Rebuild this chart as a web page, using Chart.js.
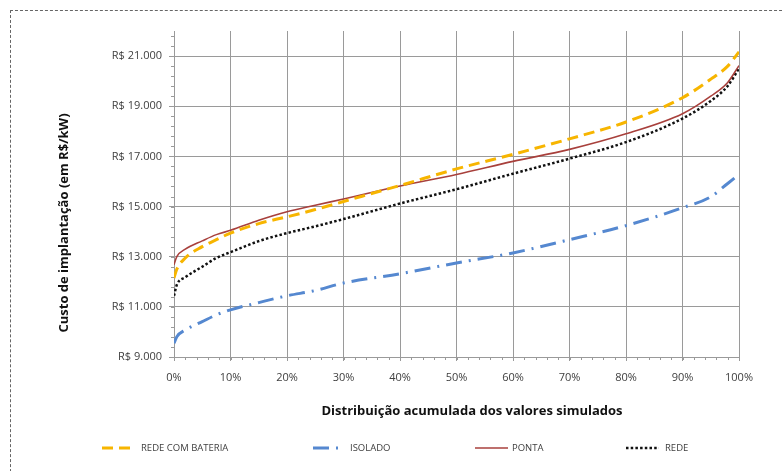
<!DOCTYPE html>
<html>
<head>
<meta charset="utf-8">
<script src="https://cdn.jsdelivr.net/npm/chart.js@4/dist/chart.umd.min.js"></script>
<style>
  body { margin: 0; background: #fff; font-family: "Open Sans", sans-serif; }
  .wrap { position: relative; width: 782px; height: 471px; overflow: hidden; }
  .frame { position: absolute; left: 10px; top: 10px; width: 800px; height: 500px; border: 1px dashed #666; }
  canvas { position: absolute; left: 0; top: 0; }
  .legend { position: absolute; top: 441px; font-size: 9.5px; color: #404040; height: 14px; line-height: 14px; }
  .legend span { position: absolute; white-space: nowrap; }
  .legend svg { position: absolute; top: 2px; }
</style>
</head>
<body>
<div class="wrap">
  <div class="frame"></div>
  <canvas id="chart1" width="782" height="471"></canvas>
  <div class="legend" id="legend"></div>
</div>
<script>
// percentis simulados (eixo x)
const pct = [0, 0.5, 2, 5, 7.5, 10, 15, 20, 25, 30, 40, 50, 60, 70, 80, 90, 95, 98, 100];

// custo de implantação em R$/kW
const redeBateria = [12150, 12500, 12950, 13400, 13680, 13940, 14320, 14590, 14880, 15200, 15840, 16500, 17080, 17700, 18370, 19340, 20080, 20600, 21170];
const isolado = [9550, 9810, 10080, 10410, 10680, 10880, 11170, 11440, 11650, 11950, 12320, 12750, 13150, 13680, 14240, 14950, 15390, 15920, 16280];
const ponta = [12680, 13000, 13300, 13630, 13880, 14050, 14450, 14790, 15050, 15300, 15820, 16280, 16800, 17280, 17900, 18700, 19400, 19950, 20620];
const rede = [11440, 11880, 12180, 12600, 12950, 13180, 13620, 13940, 14210, 14500, 15120, 15690, 16310, 16910, 17570, 18510, 19210, 19810, 20510];

const yTicks = [9000, 11000, 13000, 15000, 17000, 19000, 21000];

const series = [
  { label: "REDE COM BATERIA", values: redeBateria, color: "#f7b500", width: 3, dash: [11, 6] },
  { label: "ISOLADO", values: isolado, color: "#5588d0", width: 3, dash: [16, 7, 2, 7] },
  { label: "PONTA", values: ponta, color: "#a8403c", width: 1.6, dash: [] },
  { label: "REDE", values: rede, color: "#111111", width: 2.5, dash: [2.5, 2.2] },
];

const toPoints = (vals) => pct.map((p, i) => ({ x: p, y: vals[i] }));

const fmtBRL = (v) => "R$ " + v.toLocaleString("pt-BR");

// small minor ticks on both axes
const minorTicks = {
  id: "minorTicks",
  afterDraw(chart) {
    const { ctx, chartArea, scales } = chart;
    ctx.save();
    ctx.strokeStyle = "#9a9a9a";
    ctx.lineWidth = 1;
    ctx.beginPath();
    for (let v = 9000; v <= 22000; v += 400) {
      const y = Math.round(scales.y.getPixelForValue(v)) + 0.5;
      ctx.moveTo(chartArea.left - 3, y);
      ctx.lineTo(chartArea.left, y);
    }
    for (let p = 0; p <= 100; p += 2) {
      const x = Math.round(scales.x.getPixelForValue(p)) + 0.5;
      ctx.moveTo(x, chartArea.bottom);
      ctx.lineTo(x, chartArea.bottom + 3);
    }
    ctx.stroke();
    ctx.restore();
  },
};

// axis titles (placed off-centre like the original)
const axisTitles = {
  id: "axisTitles",
  afterDraw(chart) {
    const { ctx } = chart;
    ctx.save();
    ctx.fillStyle = "#111";
    ctx.font = "bold 13px 'Open Sans'";
    ctx.textAlign = "center";
    ctx.textBaseline = "middle";
    ctx.fillText("Distribuição acumulada dos valores simulados", 472, 411);
    ctx.translate(64, 223);
    ctx.rotate(-Math.PI / 2);
    ctx.fillText("Custo de implantação (em R$/kW)", 0, 0);
    ctx.restore();
  },
};

const ctx1 = document.getElementById("chart1").getContext("2d");
const chart1 = new Chart(ctx1, {
  type: "line",
  data: {
    datasets: series.map((s) => ({
      label: s.label,
      data: toPoints(s.values),
      borderColor: s.color,
      borderWidth: s.width,
      borderDash: s.dash,
      pointRadius: 0,
      fill: false,
      cubicInterpolationMode: "monotone",
    })),
  },
  options: {
    responsive: false,
    animation: false,
    layout: { padding: { left: 56, right: 43, top: 31, bottom: 54 } },
    plugins: {
      legend: { display: false },
      tooltip: { enabled: false },
    },
    scales: {
      x: {
        type: "linear",
        min: 0,
        max: 100,
        afterFit: (scale) => { scale.height = 60; },
        ticks: {
          stepSize: 10,
          callback: (v) => v + "%",
          color: "#404040",
          font: { family: "Open Sans", size: 11 },
          padding: 10,
          maxRotation: 0,
        },
        grid: { color: "#9a9a9a", tickLength: 4, drawTicks: true },
        border: { color: "#9a9a9a" },
      },
      y: {
        min: 9000,
        max: 22000,
        afterFit: (scale) => { scale.width = 118; },
        afterBuildTicks: (scale) => {
          scale.ticks = yTicks.map((v) => ({ value: v }));
        },
        ticks: {
          callback: (v) => fmtBRL(v),
          color: "#404040",
          font: { family: "Open Sans", size: 11 },
          padding: 7,
        },
        grid: { color: "#9a9a9a", tickLength: 5 },
        border: { color: "#9a9a9a" },
      },
    },
  },
  plugins: [minorTicks, axisTitles],
});

// legend below the chart
const legendPos = [
  { sx: 102, sw: 33, tx: 141 },
  { sx: 313, sw: 32, tx: 350 },
  { sx: 475, sw: 33, tx: 512 },
  { sx: 626, sw: 33, tx: 665 },
];
const legend = document.getElementById("legend");
series.forEach((s, i) => {
  const pos = legendPos[i];
  const svg = document.createElementNS("http://www.w3.org/2000/svg", "svg");
  svg.setAttribute("width", pos.sw);
  svg.setAttribute("height", 10);
  svg.style.left = pos.sx + "px";
  const line = document.createElementNS("http://www.w3.org/2000/svg", "line");
  line.setAttribute("x1", 0);
  line.setAttribute("x2", pos.sw);
  line.setAttribute("y1", 5);
  line.setAttribute("y2", 5);
  line.setAttribute("stroke", s.color);
  line.setAttribute("stroke-width", s.width);
  if (s.dash.length) line.setAttribute("stroke-dasharray", s.dash.join(" "));
  svg.appendChild(line);
  legend.appendChild(svg);
  const txt = document.createElement("span");
  txt.textContent = s.label;
  txt.style.left = pos.tx + "px";
  legend.appendChild(txt);
});
</script>
</body>
</html>
